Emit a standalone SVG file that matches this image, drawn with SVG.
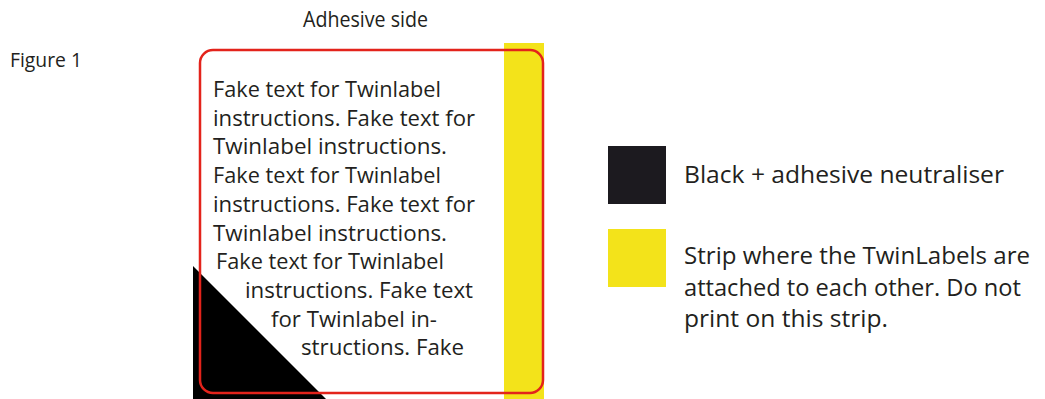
<svg xmlns="http://www.w3.org/2000/svg" width="1045" height="399" viewBox="0 0 1045 399">
<style>
.t{font-family:"Open Sans","Noto Sans",sans-serif;fill:#231f20}
.b{font-size:21px}
.l{font-size:23px}
</style>
<rect width="1045" height="399" fill="#fff"/>
<g id="caption">
<text class="t" x="10" y="67" font-size="20" textLength="72" lengthAdjust="spacingAndGlyphs">Figure 1</text>
<text class="t" x="303" y="27" font-size="21" textLength="125" lengthAdjust="spacingAndGlyphs">Adhesive side</text>
</g>
<g id="label">
<rect x="504" y="43" width="40" height="356" fill="#f3e31a"/>
<polygon points="193,266 193,399 326,399" fill="#000"/>
<rect x="200" y="50" width="343" height="343" rx="13" fill="none" stroke="#e3231b" stroke-width="2.5"/>
<g class="t b">
<text x="213" y="97" textLength="228" lengthAdjust="spacingAndGlyphs">Fake text for Twinlabel</text>
<text x="213" y="125.5" textLength="262" lengthAdjust="spacingAndGlyphs">instructions. Fake text for</text>
<text x="213" y="154" textLength="234" lengthAdjust="spacingAndGlyphs">Twinlabel instructions.</text>
<text x="213" y="183" textLength="228" lengthAdjust="spacingAndGlyphs">Fake text for Twinlabel</text>
<text x="213" y="211.5" textLength="262" lengthAdjust="spacingAndGlyphs">instructions. Fake text for</text>
<text x="213" y="240.5" textLength="234" lengthAdjust="spacingAndGlyphs">Twinlabel instructions.</text>
<text x="216" y="269" textLength="228" lengthAdjust="spacingAndGlyphs">Fake text for Twinlabel</text>
<text x="245" y="298" textLength="228" lengthAdjust="spacingAndGlyphs">instructions. Fake text</text>
<text x="271" y="326.5" textLength="166" lengthAdjust="spacingAndGlyphs">for Twinlabel in-</text>
<text x="301" y="355" textLength="163" lengthAdjust="spacingAndGlyphs">structions. Fake</text>
</g>
</g>
<g id="legend-black">
<rect x="608" y="146" width="58" height="58" fill="#1c1a1f"/>
<text class="t l" x="684" y="183" textLength="320" lengthAdjust="spacingAndGlyphs">Black + adhesive neutraliser</text>
</g>
<g id="legend-yellow">
<rect x="608" y="229" width="58" height="58" fill="#f3e31a"/>
<text class="t l" x="684" y="264" textLength="346" lengthAdjust="spacingAndGlyphs">Strip where the TwinLabels are</text>
<text class="t l" x="684" y="296" textLength="337" lengthAdjust="spacingAndGlyphs">attached to each other. Do not</text>
<text class="t l" x="684" y="327" textLength="204" lengthAdjust="spacingAndGlyphs">print on this strip.</text>
</g>
<g id="connectors"/>
</svg>
